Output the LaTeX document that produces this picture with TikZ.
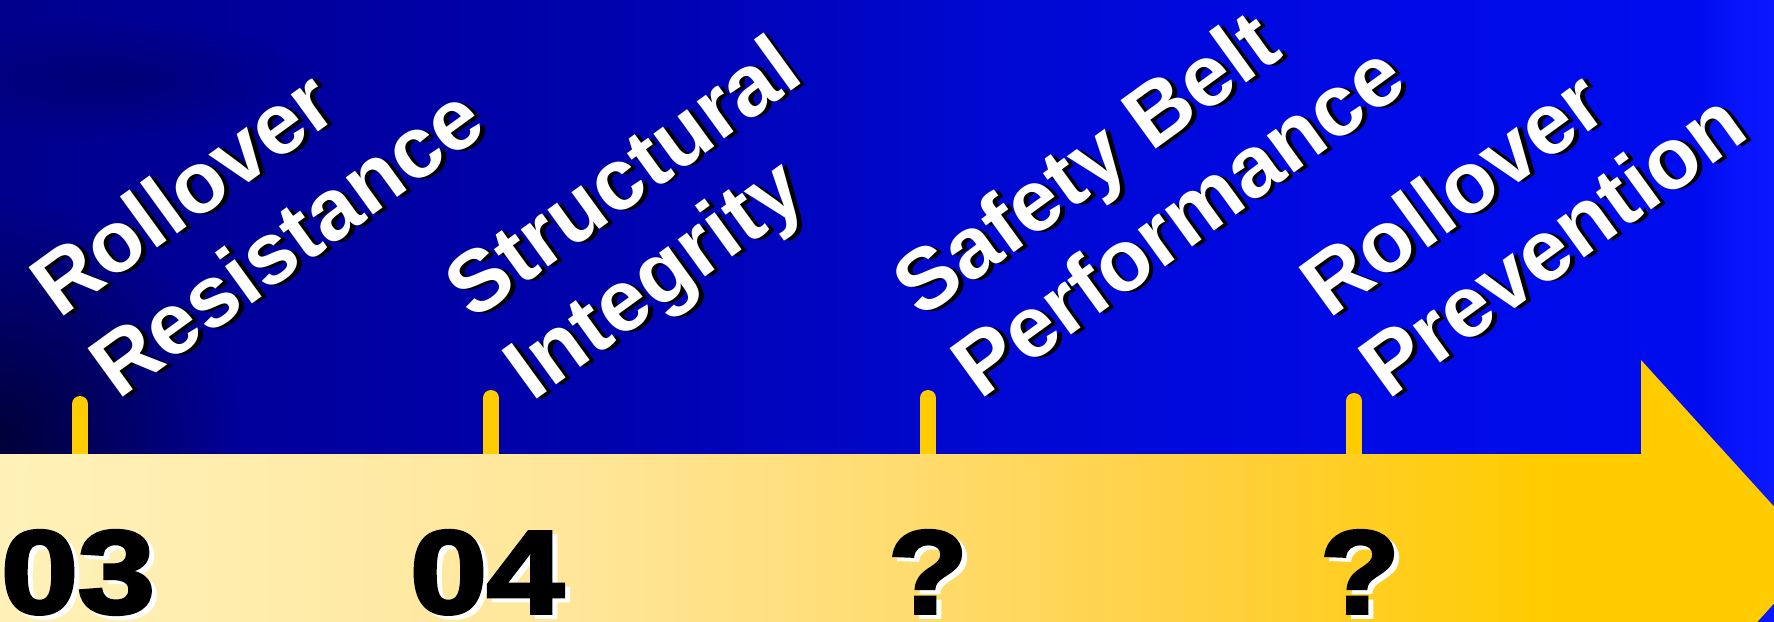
\documentclass[tikz,border=0pt]{standalone}
\usepackage{fontspec}
\setmainfont{Liberation Sans}
\newfontfamily\heavyfont{Liberation Sans}[BoldFeatures={FakeBold=3}]
\usetikzlibrary{fadings}
\tikzfading[name=myfade, inner color=transparent!0, outer color=transparent!100]
\definecolor{bg0}{RGB}{0,0,140}
\definecolor{bg1}{RGB}{0,0,158}
\definecolor{bg2}{RGB}{0,2,172}
\definecolor{bg3}{RGB}{0,8,210}
\definecolor{bg4}{RGB}{0,10,230}
\definecolor{bg5}{RGB}{0,12,238}
\definecolor{bg6}{RGB}{8,20,252}
\definecolor{bg7}{RGB}{10,24,255}
\definecolor{bd0}{RGB}{255,241,184}
\definecolor{bd1}{RGB}{255,236,170}
\definecolor{bd2}{RGB}{255,229,150}
\definecolor{bd3}{RGB}{255,220,112}
\definecolor{bd4}{RGB}{255,208,64}
\definecolor{bd5}{RGB}{255,204,0}
\definecolor{tickc}{RGB}{255,204,0}
\definecolor{navy}{RGB}{0,0,30}
\pgfdeclarehorizontalshading{bgshade}{100bp}{color(0bp)=(bg0); color(25bp)=(bg0); color(33.5bp)=(bg1); color(41.9bp)=(bg2); color(53.2bp)=(bg3); color(64.5bp)=(bg4); color(72.9bp)=(bg5); color(74bp)=(bg6); color(75bp)=(bg7); color(100bp)=(bg7)}
\pgfdeclarehorizontalshading{bandshade}{100bp}{color(0bp)=(bd0); color(25bp)=(bd0); color(33.2bp)=(bd1); color(41.5bp)=(bd2); color(49.8bp)=(bd3); color(58bp)=(bd4); color(67.5bp)=(bd5); color(75bp)=(bd5); color(100bp)=(bd5)}
\tikzset{
  lbl/.style={font=\bfseries\fontsize{87}{100}\selectfont, text=white, inner sep=0pt, anchor=base west, rotate=36},
  lblsh/.style={lbl, text=black, xshift=3.5pt, yshift=-3.5pt},
  num/.style={font=\heavyfont\bfseries\fontsize{118}{118}\selectfont, text=black, inner sep=0pt, anchor=base},
  numsh/.style={num, text=white, xshift=5pt, yshift=-4pt},
  tickline/.style={draw=tickc, line width=16pt, line cap=round}
}
\begin{document}
\begin{tikzpicture}[x=1pt,y=-1pt]
\useasboundingbox (0,0) rectangle (1774,621);
\clip (0,0) rectangle (1774,621);
% background
\shade[shading=bgshade] (0,0) rectangle (1774,621);
\fill[navy, opacity=0.75, path fading=myfade] (0,440) circle (240);
\fill[navy, opacity=0.25, path fading=myfade] (120,80) ellipse (200 and 60);
% ticks
\coordinate (t1) at (80,404);
\coordinate (t2) at (491,398);
\coordinate (t3) at (928,398);
\coordinate (t4) at (1354,401);
\coordinate (b1) at (80,470);
\coordinate (b2) at (491,470);
\coordinate (b3) at (928,470);
\coordinate (b4) at (1354,470);
\draw[tickline] (t1) -- (b1);
\draw[tickline] (t2) -- (b2);
\draw[tickline] (t3) -- (b3);
\draw[tickline] (t4) -- (b4);
% band arrow
\shade[shading=bandshade] (0,454) -- (1641,454) -- (1641,360) -- (1818,555) -- (1641,750) -- (1641,656) -- (0,656) -- cycle;
% labels
\node[lblsh] (l1as) at (59,320) {Rollover};
\node[lbl]   (l1a)  at (59,320) {Rollover};
\node[lblsh] (l1bs) at (118,401) {Resistance};
\node[lbl]   (l1b)  at (118,401) {Resistance};
\node[lblsh] (l2as) at (473,322) {Structural};
\node[lbl]   (l2a)  at (473,322) {Structural};
\node[lblsh] (l2bs) at (532,403) {Integrity};
\node[lbl]   (l2b)  at (532,403) {Integrity};
\node[lblsh] (l3as) at (921,320) {Safety Belt};
\node[lbl]   (l3a)  at (921,320) {Safety Belt};
\node[lblsh] (l3bs) at (980,401) {Performance};
\node[lbl]   (l3b)  at (980,401) {Performance};
\node[lblsh] (l4as) at (1329,320) {Rollover};
\node[lbl]   (l4a)  at (1329,320) {Rollover};
\node[lblsh] (l4bs) at (1388,401) {Prevention};
\node[lbl]   (l4b)  at (1388,401) {Prevention};
% numbers
\node[numsh] (n1s) at (78,613) {\scalebox{1.17}[1]{03}};
\node[num]   (n1)  at (78,613) {\scalebox{1.17}[1]{03}};
\node[numsh] (n2s) at (487,613) {\scalebox{1.17}[1]{04}};
\node[num]   (n2)  at (487,613) {\scalebox{1.17}[1]{04}};
\node[numsh] (n3s) at (928,613) {\scalebox{1.1}[1]{?}};
\node[num]   (n3)  at (928,613) {\scalebox{1.1}[1]{?}};
\node[numsh] (n4s) at (1360,613) {\scalebox{1.1}[1]{?}};
\node[num]   (n4)  at (1360,613) {\scalebox{1.1}[1]{?}};
\end{tikzpicture}
\end{document}
